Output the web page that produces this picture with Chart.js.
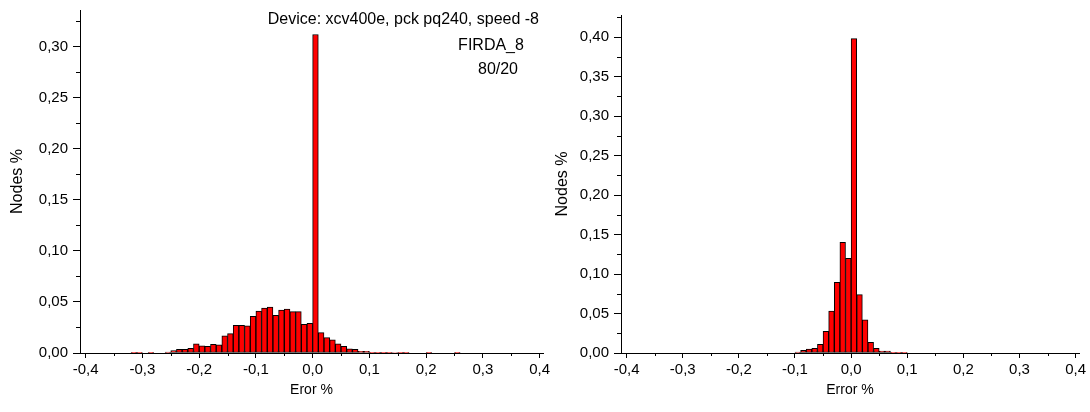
<!DOCTYPE html>
<html>
<head>
<meta charset="utf-8">
<script src="https://cdn.jsdelivr.net/npm/chart.js@4"></script>
<style>
  html, body { margin: 0; padding: 0; background: #fff; }
  #wrap { position: relative; width: 1090px; height: 412px; overflow: hidden; }
  .box { position: absolute; top: 0; height: 412px; }
</style>
</head>
<body>
<div id="wrap">
  <div class="box" style="left:0;width:560px"><canvas id="leftChart" width="560" height="412"></canvas></div>
  <div class="box" style="left:545px;width:545px"><canvas id="rightChart" width="545" height="412"></canvas></div>
</div>
<script>
// histogram bins are 0.01 wide, values given per bin start
const binWidth = 0.01;

// left panel: FIRDA_8, 80/20
const leftBinStart = [
  -0.32, -0.31, -0.30, -0.29, -0.28, -0.27, -0.26, -0.25, -0.24, -0.23,
  -0.22, -0.21, -0.20, -0.19, -0.18, -0.17, -0.16, -0.15, -0.14, -0.13,
  -0.12, -0.11, -0.10, -0.09, -0.08, -0.07, -0.06, -0.05, -0.04, -0.03,
  -0.02, -0.01, 0.00, 0.01, 0.02, 0.03, 0.04, 0.05, 0.06, 0.07,
  0.08, 0.09, 0.10, 0.11, 0.12, 0.13, 0.14, 0.15, 0.16, 0.17,
  0.18, 0.19, 0.20, 0.21, 0.22, 0.23, 0.24, 0.25
];
const leftNodes = [
  0.0003, 0.0002, 0, 0.0007, 0, 0, 0.001, 0.0023, 0.0036, 0.0036,
  0.0045, 0.009, 0.007, 0.0065, 0.0085, 0.008, 0.0167, 0.019, 0.027, 0.027,
  0.0265, 0.036, 0.041, 0.044, 0.045, 0.037, 0.042, 0.043, 0.0405, 0.0405,
  0.028, 0.029, 0.312, 0.020, 0.015, 0.013, 0.009, 0.0065, 0.004, 0.0036,
  0.0016, 0.0016, 0.0006, 0.0003, 0.0002, 0.0002, 0.0005, 0.0006, 0.0004, 0,
  0, 0, 0.0002, 0, 0, 0, 0, 0.0007
];

// right panel
const rightBinStart = [
  -0.10, -0.09, -0.08, -0.07, -0.06, -0.05, -0.04, -0.03, -0.02, -0.01,
  0.00, 0.01, 0.02, 0.03, 0.04, 0.05, 0.06, 0.07, 0.08, 0.09
];
const rightNodes = [
  0.0013, 0.0034, 0.005, 0.006, 0.011, 0.0274, 0.053, 0.0895, 0.140, 0.120,
  0.398, 0.074, 0.042, 0.0135, 0.006, 0.0025, 0.0025, 0.001, 0.0004, 0.0003
];

const infoLines = ["Device: xcv400e, pck pq240, speed -8", "FIRDA_8", "80/20"];

const FONT = "'Liberation Sans', Arial, sans-serif";

function isMajor(v, step) {
  const r = v / step;
  return Math.abs(r - Math.round(r)) < 1e-6;
}

function fmt(v, digits) {
  if (Math.abs(v) < 1e-9) v = 0;
  return v.toFixed(digits).replace('.', ',');
}

// short minor ticks on both axes
const minorTicks = {
  id: 'minorTicks',
  afterDraw(chart, args, opts) {
    const ctx = chart.ctx;
    const area = chart.chartArea;
    ctx.save();
    ctx.strokeStyle = '#000';
    ctx.lineWidth = 1;
    chart.scales.x.ticks.forEach(t => {
      if (isMajor(t.value, opts.xMajor)) return;
      const p = Math.round(chart.scales.x.getPixelForValue(t.value)) + 0.5;
      ctx.beginPath();
      ctx.moveTo(p, area.bottom);
      ctx.lineTo(p, area.bottom + 3);
      ctx.stroke();
    });
    chart.scales.y.ticks.forEach(t => {
      if (isMajor(t.value, opts.yMajor)) return;
      const p = Math.round(chart.scales.y.getPixelForValue(t.value)) + 0.5;
      ctx.beginPath();
      ctx.moveTo(area.left, p);
      ctx.lineTo(area.left - 4, p);
      ctx.stroke();
    });
    ctx.restore();
  }
};

// text block in the upper right of the left panel
const infoText = {
  id: 'infoText',
  afterDraw(chart, args, opts) {
    if (!opts.lines) return;
    const ctx = chart.ctx;
    const r = chart.chartArea.right;
    ctx.save();
    ctx.fillStyle = '#000';
    ctx.font = '16px ' + FONT;
    ctx.textBaseline = 'middle';
    ctx.textAlign = 'right';
    ctx.fillText(opts.lines[0], r - 4, 20);
    ctx.textAlign = 'center';
    ctx.fillText(opts.lines[1], r - 52, 46);
    ctx.fillText(opts.lines[2], r - 45, 70);
    ctx.restore();
  }
};

function makeChart(id, starts, values, cfg) {
  const points = [];
  starts.forEach((s, i) => {
    if (values[i] > 0) points.push({ x: s + binWidth / 2, y: values[i] });
  });

  return new Chart(document.getElementById(id), {
    type: 'bar',
    data: {
      datasets: [{
        data: points,
        backgroundColor: '#ff0000',
        borderColor: '#000000',
        borderWidth: 1,
        borderSkipped: false,
        barPercentage: 1,
        categoryPercentage: 1
      }]
    },
    plugins: [minorTicks, infoText],
    options: {
      responsive: false,
      animation: false,
      layout: { padding: { top: cfg.top, right: cfg.right, left: 0, bottom: 0 } },
      plugins: {
        legend: { display: false },
        tooltip: { enabled: false },
        minorTicks: { xMajor: 0.1, yMajor: 0.05 },
        infoText: { lines: cfg.lines }
      },
      scales: {
        x: {
          type: 'linear',
          min: -0.41,
          max: 0.406,
          offset: false,
          grid: {
            offset: false,
            drawOnChartArea: false,
            drawTicks: true,
            tickLength: 5,
            tickColor: c => isMajor(c.tick.value, 0.1) ? '#000' : 'rgba(0,0,0,0)'
          },
          border: { display: true, color: '#000', width: 1 },
          ticks: {
            stepSize: 0.05,
            autoSkip: false,
            maxRotation: 0,
            includeBounds: false,
            maxTicksLimit: 100,
            padding: 3,
            color: '#000',
            font: { family: FONT, size: 15 },
            callback: v => isMajor(v, 0.1) ? fmt(v, 1) : ''
          },
          title: {
            display: true,
            text: cfg.xTitle,
            color: '#000',
            font: { family: FONT, size: 14 },
            padding: { top: 0, bottom: 13 }
          },
          afterFit: s => {
            s.height = 59;
            // let the end labels hang past the axis like the original
            s.paddingLeft = 0;
            s.paddingRight = 0;
          }
        },
        y: {
          min: 0,
          max: cfg.yMax,
          grid: {
            drawOnChartArea: false,
            drawTicks: true,
            tickLength: 7,
            tickColor: c => isMajor(c.tick.value, 0.05) ? '#000' : 'rgba(0,0,0,0)'
          },
          border: { display: true, color: '#000', width: 1 },
          ticks: {
            stepSize: 0.025,
            autoSkip: false,
            includeBounds: false,
            maxTicksLimit: 100,
            padding: 5,
            color: '#000',
            font: { family: FONT, size: 15 },
            callback: v => isMajor(v, 0.05) ? fmt(v, 2) : ''
          },
          title: {
            display: true,
            text: 'Nodes %',
            color: '#000',
            font: { family: FONT, size: 16 },
            padding: { top: 8, bottom: 0 }
          },
          afterFit: s => {
            s.width = cfg.yWidth;
            s.paddingTop = 0;
            s.paddingBottom = 0;
          }
        }
      }
    }
  });
}

makeChart('leftChart', leftBinStart, leftNodes, {
  yMax: 0.336, xTitle: 'Eror %', yWidth: 80, top: 10, right: 17, lines: infoLines
});
makeChart('rightChart', rightBinStart, rightNodes, {
  yMax: 0.428, xTitle: 'Error %', yWidth: 76, top: 15, right: 11, lines: null
});
</script>
</body>
</html>
